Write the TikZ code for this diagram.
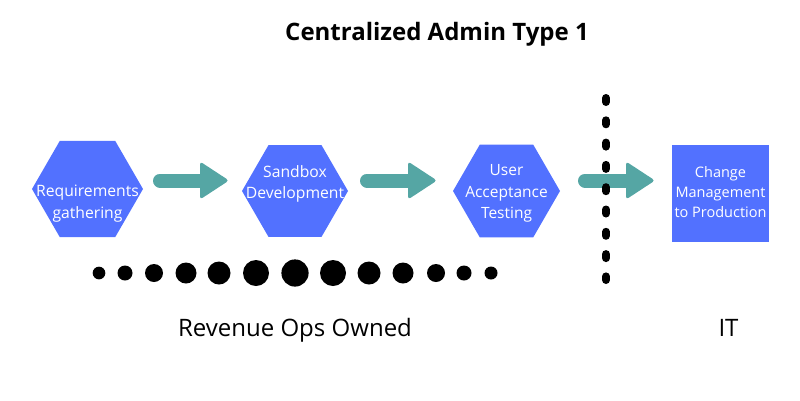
\documentclass[tikz,border=0pt]{standalone}
\usepackage{fontspec}
\setmainfont{Open Sans}
\usetikzlibrary{shapes.geometric,calc}
\definecolor{hexblue}{HTML}{5271FF}
\definecolor{arrowteal}{HTML}{55A6A4}
\tikzset{
  hexa/.style={shape=regular polygon, regular polygon sides=6, fill=hexblue, draw=none, inner sep=0pt},
  boxtext/.style={text=white, align=center, inner sep=0pt},
  arrowline/.style={draw=arrowteal, line width=14pt, line cap=round},
  arrowhead/.style={fill=arrowteal, rounded corners=3pt},
  sepline/.style={draw=black, line width=8pt, line cap=round, dash pattern=on 4pt off 18.3pt},
  bigdot/.style={fill=black}
}
\newcommand{\blockarrow}[2]{%
  \draw[arrowline] (#1) -- ($(#2)+(-22,0)$);
  \fill[arrowhead] ($(#2)+(-28,-19)$) -- ($(#2)+(1,0)$) -- ($(#2)+(-28,19)$) -- cycle;
}
\begin{document}
\begin{tikzpicture}[x=1pt,y=-1pt]
\useasboundingbox (0,0) rectangle (800,400);
% title
\node[font=\fontsize{24}{28}\selectfont\bfseries, anchor=base] (title) at (437,40.7) {Centralized Admin Type 1};
% shapes
\node[hexa, minimum size=111pt] (h1) at (87.5,189) {};
\node[hexa, minimum size=106pt] (h2) at (295,191) {};
\node[hexa, minimum size=107pt] (h3) at (506.5,191) {};
\node[fill=hexblue, minimum width=97pt, minimum height=97pt, inner sep=0pt] (cm) at (720.5,193.5) {};
% texts
\node[boxtext, font=\fontsize{15.7}{21.5}\selectfont] (h1t) at (87.5,203.5) {Requirements\\gathering};
\node[boxtext, font=\fontsize{15.7}{20.5}\selectfont] (h2t) at (295,184) {Sandbox\\Development};
\node[boxtext, font=\fontsize{15.5}{21.5}\selectfont] (h3t) at (506.5,193.5) {User\\Acceptance\\Testing};
\node[boxtext, font=\fontsize{14.5}{20}\selectfont] (cmt) at (720.5,192.5) {Change\\Management\\to Production};
% arrows
\coordinate (a1s) at (160,180.5); \coordinate (a1e) at (228,180.5);
\coordinate (a2s) at (367,180.5); \coordinate (a2e) at (436,180.5);
\coordinate (a3s) at (585,180.5); \coordinate (a3e) at (654,180.5);
\blockarrow{a1s}{a1e}
\blockarrow{a2s}{a2e}
\blockarrow{a3s}{a3e}
% separator
\coordinate (sepTop) at (606,98);
\coordinate (sepBot) at (606,280);
\draw[sepline] (sepTop) -- (sepBot);
% dots
\foreach \x/\r [count=\i] in {99/6.35,125/7.5,154/9,186/10.5,219/11.5,256/13,295/13.6,333/13,369/11.5,403/10.5,436/9,464/7.5,491/6.5}
  \fill[bigdot] (\x,273) circle[radius=\r] coordinate (dot\i);
% bottom labels
\node[font=\fontsize{24}{28}\selectfont, anchor=base] (rev) at (295,336) {Revenue Ops Owned};
\node[font=\fontsize{24}{28}\selectfont, anchor=base] (it) at (728.5,336) {IT};
\end{tikzpicture}
\end{document}
